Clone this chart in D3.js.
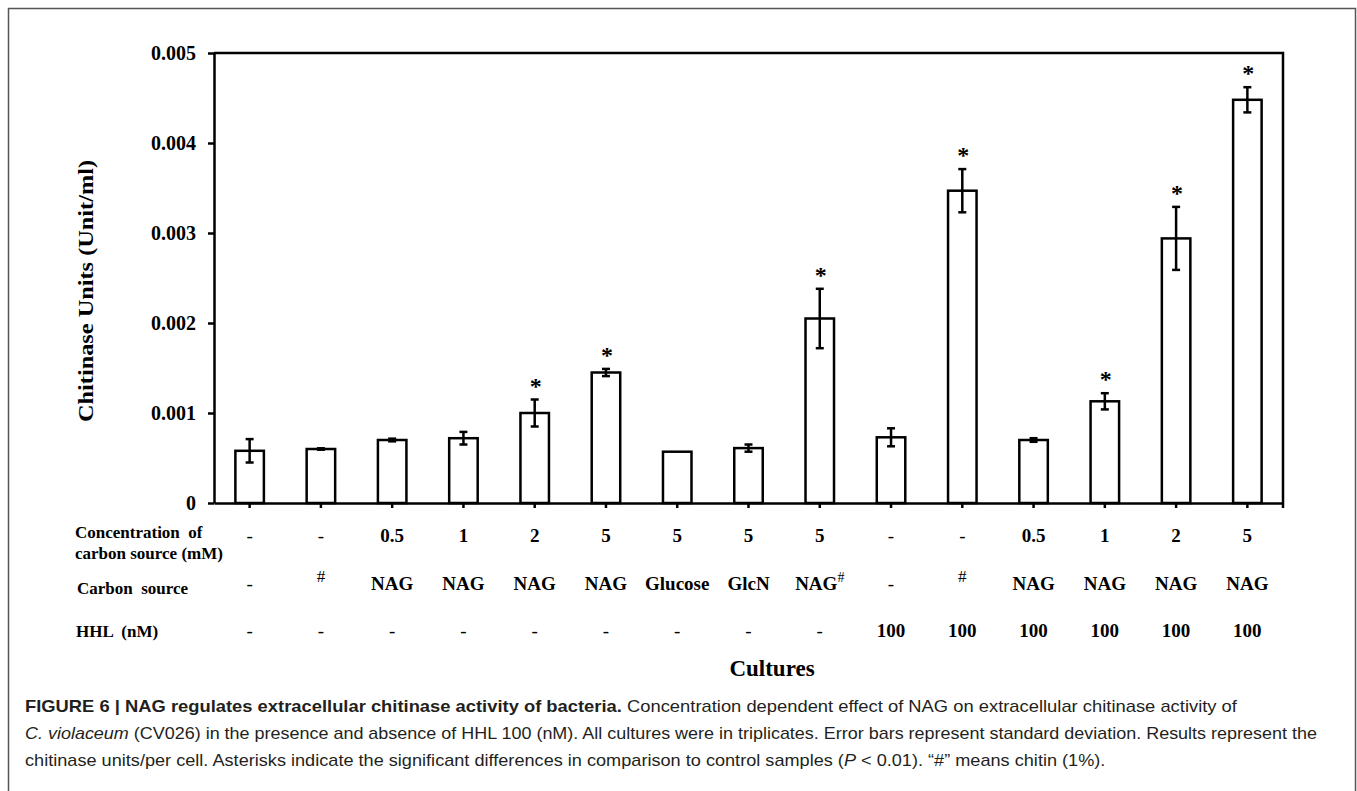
<!DOCTYPE html>
<html>
<head>
<meta charset="utf-8">
<script src="https://cdn.jsdelivr.net/npm/d3@7"></script>
<style>
  body { margin: 0; background: #fff; }
  svg { display: block; }
</style>
</head>
<body>
<div id="chart"></div>
<script>
const width = 1357;
const height = 791;

// table rows under the bars
const concentration = ["-", "-", "0.5", "1", "2", "5", "5", "5", "5", "-", "-", "0.5", "1", "2", "5"];
const carbonSource = ["-", "#", "NAG", "NAG", "NAG", "NAG", "Glucose", "GlcN", "NAG#", "-", "#", "NAG", "NAG", "NAG", "NAG"];
const hhl = ["-", "-", "-", "-", "-", "-", "-", "-", "-", "100", "100", "100", "100", "100", "100"];

// chitinase units
const means = [0.00058, 0.0006, 0.0007, 0.00072, 0.001, 0.00145, 0.00057, 0.00061, 0.00205, 0.00073, 0.00347, 0.0007, 0.00113, 0.00294, 0.00448];
const sds = [0.00013, 0.000008, 0.000015, 0.00007, 0.00015, 0.00004, 0, 0.00004, 0.00033, 0.0001, 0.00024, 0.00002, 0.00009, 0.00035, 0.00014];
const significant = [false, false, false, false, true, true, false, false, true, false, true, false, true, true, true];
const yTicks = [0, 0.001, 0.002, 0.003, 0.004, 0.005];

const serif = '"Liberation Serif", "Times New Roman", serif';
const sans = '"Liberation Sans", Arial, sans-serif';

const plot = {left: 214, right: 1283, top: 53, bottom: 503};

const svg = d3.select('#chart')
  .append('svg')
  .attr('width', width)
  .attr('height', height)
  .attr('viewBox', [0, 0, width, height]);

svg.append('rect')
  .attr('x', 8.5).attr('y', 8.5)
  .attr('width', 1347).attr('height', 800)
  .attr('fill', 'none')
  .attr('stroke', '#555')
  .attr('stroke-width', 1.5);

const idx = d3.range(means.length);

const x = d3.scaleBand()
  .domain(idx)
  .range([plot.left, plot.right])
  .paddingInner(0.6)
  .paddingOuter(0.3);

const y = d3.scaleLinear()
  .domain([0, 0.005])
  .range([plot.bottom, plot.top]);

const cx = i => x(i) + x.bandwidth() / 2;

// top and right border of the plot box
svg.append('path')
  .attr('d', `M${plot.left},${plot.top}H${plot.right}V${plot.bottom + 5}`)
  .attr('fill', 'none')
  .attr('stroke', '#000')
  .attr('stroke-width', 2.5);

// bars
svg.append('g')
  .selectAll('rect')
  .data(idx)
  .join('rect')
  .attr('x', i => x(i))
  .attr('y', i => y(means[i]))
  .attr('width', x.bandwidth())
  .attr('height', i => y(0) - y(means[i]))
  .attr('fill', '#fff')
  .attr('stroke', '#000')
  .attr('stroke-width', 2.5);

// error bars
const err = svg.append('g')
  .attr('stroke', '#000')
  .attr('stroke-width', 2.5)
  .selectAll('g')
  .data(idx.filter(i => sds[i] > 0))
  .join('g');

err.append('line')
  .attr('x1', cx).attr('x2', cx)
  .attr('y1', i => y(means[i] - sds[i]))
  .attr('y2', i => y(means[i] + sds[i]));

err.append('line')
  .attr('x1', i => cx(i) - 4).attr('x2', i => cx(i) + 4)
  .attr('y1', i => y(means[i] + sds[i]))
  .attr('y2', i => y(means[i] + sds[i]));

err.append('line')
  .attr('x1', i => cx(i) - 4).attr('x2', i => cx(i) + 4)
  .attr('y1', i => y(means[i] - sds[i]))
  .attr('y2', i => y(means[i] - sds[i]));

// asterisks
svg.append('g')
  .selectAll('text')
  .data(idx.filter(i => significant[i]))
  .join('text')
  .attr('x', i => cx(i) + 1)
  .attr('y', i => y(means[i] + sds[i]) - 6)
  .attr('text-anchor', 'middle')
  .attr('font-family', serif)
  .attr('font-weight', 'bold')
  .attr('font-size', 24)
  .text('*');

// axes
const yAxis = svg.append('g')
  .attr('transform', `translate(${plot.left},0)`)
  .call(d3.axisLeft(y)
    .tickValues(yTicks)
    .tickSize(6)
    .tickSizeOuter(0)
    .tickPadding(12)
    .tickFormat(d => d === 0 ? '0' : d3.format('.3f')(d)));

const xAxis = svg.append('g')
  .attr('transform', `translate(0,${plot.bottom})`)
  .call(d3.axisBottom(x).tickSize(5).tickSizeOuter(0).tickFormat(''));

[yAxis, xAxis].forEach(a => {
  a.selectAll('path, line').attr('stroke', '#000').attr('stroke-width', 2.5);
  a.selectAll('text')
    .attr('fill', '#000')
    .attr('font-family', serif)
    .attr('font-weight', 'bold')
    .attr('font-size', 20);
});
yAxis.selectAll('text').attr('dy', '0.34em');

svg.append('text')
  .attr('transform', 'translate(93,291) rotate(-90)')
  .attr('text-anchor', 'middle')
  .attr('font-family', serif)
  .attr('font-weight', 'bold')
  .attr('font-size', 22)
  .attr('textLength', 262)
  .attr('lengthAdjust', 'spacingAndGlyphs')
  .text('Chitinase Units  (Unit/ml)');

// table under the axis
const rowLabel = (lines, x0, y0) => {
  const t = svg.append('text')
    .attr('font-family', serif)
    .attr('font-weight', 'bold')
    .attr('font-size', 17);
  lines.forEach((l, k) => t.append('tspan')
    .attr('x', x0).attr('y', y0 + k * 21)
    .attr('xml:space', 'preserve')
    .text(l));
};
rowLabel(['Concentration  of', 'carbon source (mM)'], 75, 538);
rowLabel(['Carbon  source'], 77, 594);
rowLabel(['HHL  (nM)'], 76, 637);

const row = (values, y0) => {
  const t = svg.append('g')
    .selectAll('text')
    .data(values)
    .join('text')
    .attr('x', (d, i) => cx(i))
    .attr('y', y0)
    .attr('text-anchor', 'middle')
    .attr('font-family', serif)
    .attr('font-weight', d => d === '-' ? 'normal' : 'bold')
    .attr('font-size', 19);
  t.each(function(d) {
    const el = d3.select(this);
    if (d === '#') {
      el.append('tspan').attr('dy', -8).attr('font-size', 17).attr('font-weight', 'normal').text('#');
    } else if (d.endsWith('#')) {
      el.append('tspan').text(d.slice(0, -1));
      el.append('tspan').attr('dy', -8).attr('font-size', 14).attr('font-weight', 'normal').text('#');
    } else {
      el.text(d);
    }
  });
};
row(concentration, 542);
row(carbonSource, 590);
row(hhl, 637);

svg.append('text')
  .attr('x', 772)
  .attr('y', 676)
  .attr('text-anchor', 'middle')
  .attr('font-family', serif)
  .attr('font-weight', 'bold')
  .attr('font-size', 23)
  .text('Cultures');

// caption, squeezed to the condensed width of the original
const captionLines = [
  {y: 712, w: 1212, parts: [
    {t: 'FIGURE 6 | NAG regulates extracellular chitinase activity of bacteria.', b: true},
    {t: ' Concentration dependent effect of NAG on extracellular chitinase activity of'}]},
  {y: 739, w: 1293, parts: [
    {t: 'C. violaceum', i: true},
    {t: ' (CV026) in the presence and absence of HHL 100 (nM). All cultures were in triplicates. Error bars represent standard deviation. Results represent the'}]},
  {y: 766, w: 1081, parts: [
    {t: 'chitinase units/per cell. Asterisks indicate the significant differences in comparison to control samples ('},
    {t: 'P', i: true},
    {t: ' < 0.01). \u201c#\u201d means chitin (1%).'}]}
];

captionLines.forEach(line => {
  const g = svg.append('g');
  const t = g.append('text')
    .attr('font-family', sans)
    .attr('font-size', 16)
    .attr('fill', '#231f20')
    .attr('xml:space', 'preserve');
  line.parts.forEach(p => t.append('tspan')
    .attr('font-weight', p.b ? 'bold' : 'normal')
    .attr('font-style', p.i ? 'italic' : 'normal')
    .text(p.t));
  const natural = t.node().getComputedTextLength();
  g.attr('transform', `translate(25,${line.y}) scale(${line.w / natural},1)`);
});
</script>
</body>
</html>
